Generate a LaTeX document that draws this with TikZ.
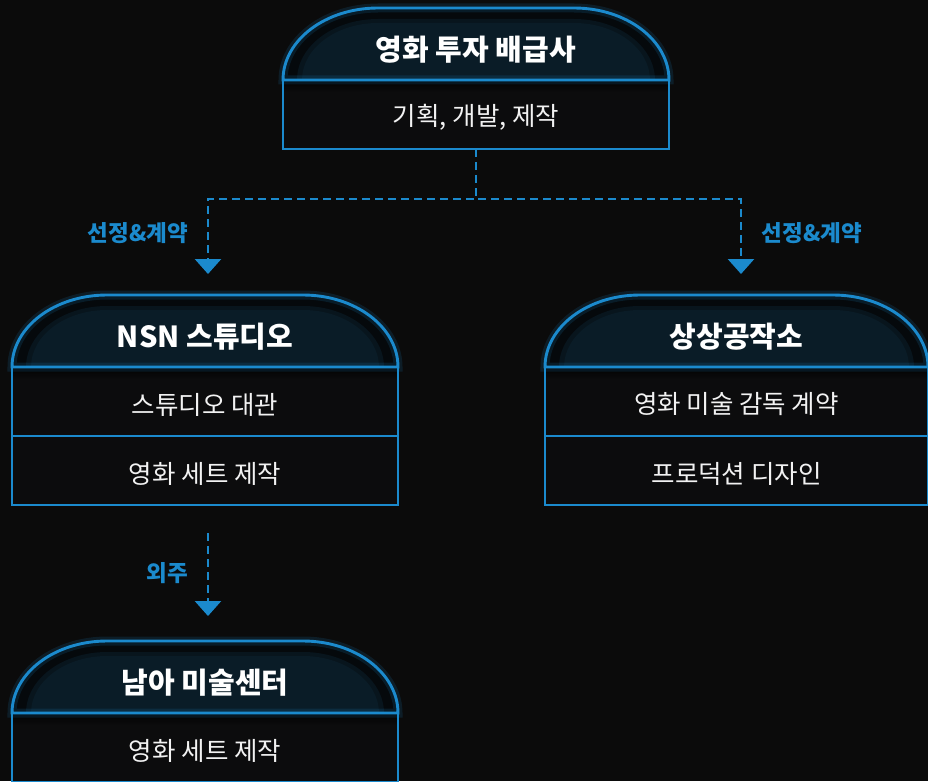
\documentclass[tikz,border=0pt]{standalone}
\usepackage{fontspec}
\setmainfont{Noto Sans CJK KR}
\usetikzlibrary{arrows.meta}
\definecolor{bg}{HTML}{0B0B0B}
\definecolor{rowbg}{HTML}{0C0C0D}
\definecolor{acc}{HTML}{1B8ACD}
\definecolor{navy}{HTML}{0A1C27}
\definecolor{band}{HTML}{05090C}
\definecolor{band2}{HTML}{08151D}
\definecolor{txt}{HTML}{F2F2F2}
\tikzset{
  hdrbox/.style={minimum height=72pt,inner sep=0pt,outer sep=0pt},
  hdrtext/.style={inner sep=0pt,text=white,font=\fontsize{29}{31}\bfseries\selectfont},
  rowbox/.style={minimum height=69pt,inner sep=0pt,outer sep=0pt,
    fill=rowbg,draw=acc,line width=2.9pt},
  rowtext/.style={inner sep=0pt,text=txt,font=\fontsize{25.5}{27}\selectfont},
  lbl/.style={text=acc,inner sep=0pt,font=\fontsize{22.5}{24}\bfseries\selectfont},
  dashline/.style={draw=acc,line width=2.7pt,dash pattern=on 8pt off 5pt,
    -{Triangle[width=26pt,length=15pt]}},
}
% #1 node, #2 x inset, #3 y inset
\newcommand\hdrpath[3]{([xshift=#2]#1.south west)
  arc[start angle=180,end angle=90,x radius={95pt-#2},y radius={72pt-#3}]
  -- ([xshift=-95pt,yshift=-#3]#1.north east)
  arc[start angle=90,end angle=0,x radius={95pt-#2},y radius={72pt-#3}] -- cycle}
% #1 name, #2 text
\newcommand\hdrdraw[2]{%
  \fill[band] \hdrpath{#1}{0pt}{0pt};
  \fill[band2] \hdrpath{#1}{14pt}{11pt};
  \fill[navy] \hdrpath{#1}{19pt}{15pt};
  \shade[top color=black,bottom color=rowbg,opacity=0.8]
    ([xshift=1.5pt]#1.south west) rectangle ([xshift=-1.5pt,yshift=-12pt]#1.south east);
  \draw[acc,opacity=0.15,line width=9pt] \hdrpath{#1}{0pt}{0pt};
  \draw[acc,line width=2.9pt] \hdrpath{#1}{0pt}{0pt};
  \node[hdrtext] (#1-t) at ([yshift=-6pt]#1.center) {#2};
}
% #1 name, #2 position, #3 width, #4 text
\newcommand\rowdraw[4]{%
  \node[rowbox,minimum width=#3] (#1) at (#2) {};
  \node[rowtext] (#1-t) at ([yshift=-3pt]#1.center) {#4};
}
\begin{document}
\begin{tikzpicture}[x=1pt,y=-1pt]
\clip (0,0) rectangle (928,781);
\fill[bg] (0,0) rectangle (928,781);
% top box
\rowdraw{r0}{476,114.5}{386pt}{기획, 개발, 제작}
\node[hdrbox,minimum width=386pt] (h0) at (476,44) {};
% NSN
\rowdraw{r1a}{205,401.5}{386pt}{스튜디오 대관}
\rowdraw{r1b}{205,470.5}{386pt}{영화 세트 제작}
\node[hdrbox,minimum width=386pt] (h1) at (205,331) {};
% 상상공작소
\rowdraw{r2a}{736.5,401.5}{383pt}{영화 미술 감독 계약}
\rowdraw{r2b}{736.5,470.5}{383pt}{프로덕션 디자인}
\node[hdrbox,minimum width=383pt] (h2) at (736.5,331) {};
% 남아
\rowdraw{r3a}{205,747.5}{386pt}{영화 세트 제작}
\node[hdrbox,minimum width=386pt] (h3) at (205,677) {};
\hdrdraw{h0}{영화 투자 배급사}
\hdrdraw{h1}{NSN 스튜디오}
\hdrdraw{h2}{상상공작소}
\hdrdraw{h3}{남아 미술센터}
% connectors
\draw[dashline,shorten >=21pt] (r0.south) -- ++(0,50) -| ([xshift=3pt]h1.north);
\draw[dashline,shorten >=21pt] (r0.south) -- ++(0,50) -| ([xshift=4.5pt]h2.north);
\coordinate (t3) at (208,533);
\draw[dashline,shorten >=25pt] (t3) -- ([xshift=3pt]h3.north);
% labels
\node[lbl] (l1) at (138,233) {선정\&계약};
\node[lbl] (l2) at (812,233) {선정\&계약};
\node[lbl] (l3) at (167,573) {외주};
\end{tikzpicture}
\end{document}
